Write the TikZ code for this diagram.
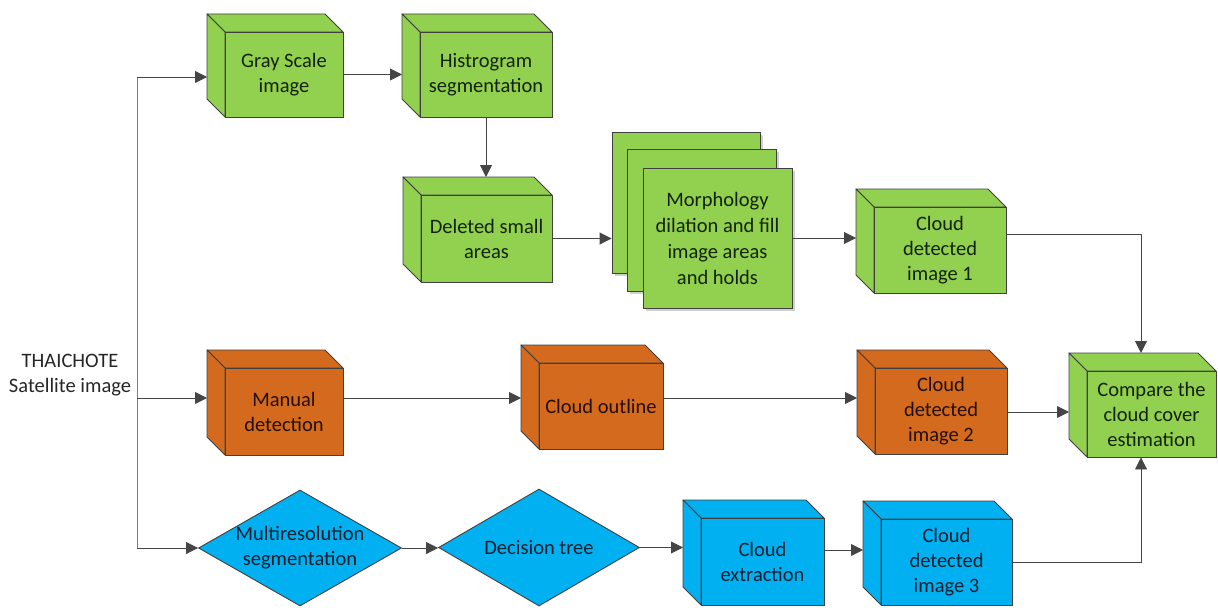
\documentclass[tikz,border=0pt]{standalone}
\usepackage{fontspec}
\setmainfont{Carlito}
\usetikzlibrary{arrows.meta,shapes.geometric,calc}
\definecolor{gr}{HTML}{92D050}
\definecolor{orn}{HTML}{D46A1E}
\definecolor{blu}{HTML}{00B0F0}
\definecolor{edge}{HTML}{404040}
\definecolor{conn}{HTML}{454545}
\definecolor{trk}{HTML}{7F7F7F}
\definecolor{txtg}{HTML}{142208}
\definecolor{txto}{HTML}{240F04}
\definecolor{txtb}{HTML}{08202F}
\definecolor{shd}{HTML}{D0D0D0}
\tikzset{
  face/.style={draw=edge, line width=0.9pt, inner sep=2pt, align=center,
    font=\fontsize{20.5}{25}\selectfont},
  sidefc/.style={draw=edge, line width=0.9pt, line join=round},
  dia/.style={diamond, draw=edge, line width=0.9pt, fill=blu, inner sep=0pt},
  lbl/.style={align=center, font=\fontsize{20.5}{25}\selectfont},
  arr/.style={draw=conn, line width=0.9pt, -{Triangle[length=12pt,width=12pt]}},
  trunk/.style={draw=trk, line width=0.9pt},
  stackbox/.style={draw=edge, line width=0.9pt, fill=gr, inner sep=0pt}
}
\newcommand{\cubebox}[8]{%
  \coordinate (#1-back) at ({#2-18},{#3-18});
  \filldraw[sidefc, fill=#6] ({#2-18},{#3-18}) -- ({#4-18},{#3-18}) -- (#4,#3) -- (#2,#3) -- cycle;
  \filldraw[sidefc, fill=#6] ({#2-18},{#3-18}) -- (#2,#3) -- (#2,#5) -- ({#2-18},{#5-18}) -- cycle;
  \node[face, fill=#6, text=#7, minimum width={#4-#2}, minimum height={#5-#3}] (#1) at ({(#2+#4)/2},{(#3+#5)/2}) {#8};
}
\begin{document}
\begin{tikzpicture}[x=1pt,y=-1pt]
\useasboundingbox (0,0) rectangle (1218,610);

% row 1
\cubebox{gs}{225}{32}{343}{117}{gr}{txtg}{Gray Scale\\image}
\cubebox{hist}{420}{32}{552}{117}{gr}{txtg}{Histrogram\\segmentation}
\cubebox{del}{421}{195}{552}{282}{gr}{txtg}{Deleted small\\areas}

% morphology stack
\fill[shd] (615,135) rectangle (763,276);
\node[stackbox, minimum width=148, minimum height=141] (m1) at (686,202.5) {};
\fill[shd] (630,152) rectangle (779,294);
\node[stackbox, minimum width=149, minimum height=142] (m2) at (701.5,220) {};
\fill[shd] (646,171) rectangle (795,311);
\node[stackbox, text=txtg, align=center, font=\fontsize{20.5}{26}\selectfont,
  minimum width=149, minimum height=140] (morph) at (717.5,238) {Morphology\\dilation and fill\\image areas\\and holds};

\cubebox{cd1}{874}{207}{1006}{293}{gr}{txtg}{Cloud\\detected\\image 1}

% row 2
\cubebox{man}{225}{368}{343}{455}{orn}{txto}{Manual\\detection}
\cubebox{co}{539}{363}{663}{449}{orn}{txto}{Cloud outline}
\cubebox{cd2}{875}{368}{1007}{454}{orn}{txto}{Cloud\\detected\\image 2}
\cubebox{cmp}{1087}{371}{1216}{457}{gr}{txtg}{Compare the\\cloud cover\\estimation}

% row 3
\node[dia, minimum width=203, minimum height=116] (mr) at (300,548) {};
\node[lbl, text=txtb] (mrt) at (mr.center) {Multiresolution\\segmentation};
\node[dia, minimum width=201, minimum height=117] (dt) at (539,547.5) {};
\node[lbl, text=txtb] (dtt) at (dt.center) {Decision tree};
\cubebox{ce}{701}{518}{824}{605}{blu}{txtb}{Cloud\\extraction}
\cubebox{cd3}{881}{519}{1012}{605}{blu}{txtb}{Cloud\\detected\\image 3}

% source label
\node[lbl, text=black!85] (src) at (70,375) {THAICHOTE\\Satellite image};

% connectors
\coordinate (ta) at (137,77);
\coordinate (tb) at (137,398);
\coordinate (tc) at (137,548);
\coordinate (ya) at (0,234);
\coordinate (cx) at (1141,0);
\coordinate (yb) at (0,412);
\coordinate (yc) at (0,550);
\coordinate (yd) at (0,562);

\draw[trunk] (ta) -- (tc);
\draw[arr] (ta) -- (gs-back |- ta);
\draw[arr] (gs.east) -- (hist-back |- gs.east);
\draw[arr] (hist.south) -- (hist.south |- del-back);
\draw[arr] (del.east) -- (m1.west |- del.east);
\draw[arr] (morph.east) -- (cd1-back |- morph.east);
\draw[arr] (cd1.east |- ya) -| (cx |- cmp-back);

\draw[arr] (tb) -- (man-back |- tb);
\draw[arr] (man.east |- tb) -- (co-back |- tb);
\draw[arr] (co.east |- tb) -- (cd2-back |- tb);
\draw[arr] (cd2.east |- yb) -- (cmp-back |- yb);

\draw[arr] (tc) -- (mr.west);
\draw[arr] (mr.east) -- (mr.east -| dt.west);
\draw[arr] (dt.east) -- (ce-back |- dt.east);
\draw[arr] (ce.east |- yc) -- (cd3-back |- yc);
\draw[arr] (cd3.east |- yd) -| (cx |- cmp.south);
\end{tikzpicture}
\end{document}
